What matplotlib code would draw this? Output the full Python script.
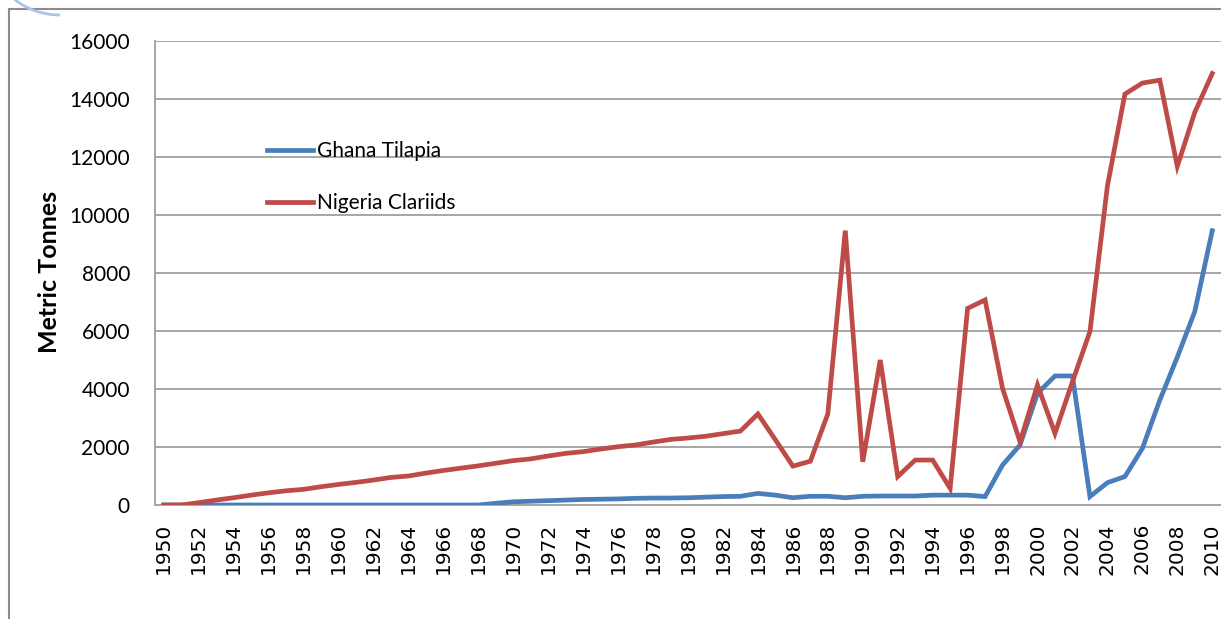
import matplotlib

matplotlib.use("Agg")
import matplotlib.pyplot as plt
from matplotlib.patches import Rectangle, Arc

# Aquaculture production, metric tonnes
years = list(range(1950, 2011))

ghana_tilapia = [0] * 19 + [
    60, 110, 130, 150, 170, 190, 200, 210, 230, 240,      # 1969-1978
    240, 250, 270, 290, 300, 400, 340, 250, 300, 300,     # 1979-1988
    250, 300, 310, 310, 310, 340, 340, 340, 290, 1380,    # 1989-1998
    2070, 3850, 4450, 4450, 290, 770, 980, 1950, 3620,    # 1999-2007
    5100, 6670, 9460,                                     # 2008-2010
]

nigeria_clariids = [
    0, 0, 80, 170, 250, 340, 420, 490, 540, 630,          # 1950-1959
    710, 780, 860, 950, 1000, 1100, 1190, 1270, 1350, 1440,  # 1960-1969
    1530, 1590, 1690, 1780, 1840, 1930, 2010, 2070, 2170, 2260,  # 1970-1979
    2310, 2370, 2460, 2550, 3140, 2250, 1340, 1510, 3140, 9460,  # 1980-1989
    1490, 5000, 980, 1550, 1550, 575, 6780, 7070, 4020, 2180,    # 1990-1999
    4140, 2470, 4250, 5980, 11000, 14170, 14550, 14650, 11680, 13540,  # 2000-2009
    14880,                                                # 2010
]

series_labels = ["Ghana Tilapia", "Nigeria Clariids"]
series_colors = ["#4a7ebb", "#be4b48"]

yticks = list(range(0, 16001, 2000))
xticks = list(range(1950, 2011, 2))

narrow = ["Lato", "DejaVu Sans"]

fig = plt.figure(figsize=(12.21, 6.19), dpi=100)
ax = fig.add_axes([155 / 1221, 1 - 505 / 619, 1066 / 1221, 464 / 619])

# chart frame and the stray corner arc of the original screenshot
fig.patches.append(Rectangle((9 / 1221, -0.05), 1.1, 1 - 9 / 619 + 0.05,
                             transform=fig.transFigure, fill=False,
                             edgecolor="#8c8c8c", linewidth=1.5))
fig.patches.append(Arc((60 / 1221, 1 + 40 / 619), 130 / 1221, 110 / 619,
                       theta1=180, theta2=270, transform=fig.transFigure,
                       edgecolor="#a9c4e8", linewidth=2))

for values, label, color in zip((ghana_tilapia, nigeria_clariids), series_labels, series_colors):
    ax.plot(years, values, color=color, linewidth=3.4, label=label,
            solid_joinstyle="miter", zorder=3)

ax.set_xlim(1949.5, 2010.5)
ax.set_ylim(0, 16000)
ax.set_yticks(yticks)
ax.set_yticklabels([str(v) for v in yticks], family=narrow, fontsize=15)
ax.set_xticks(xticks)
ax.set_xticklabels([str(v) for v in xticks], rotation=90, fontsize=14.5, va="top")
for lbl in ax.get_xticklabels():
    lbl.set_fontfamily("DejaVu Sans")
ax.tick_params(axis="both", length=0)
ax.tick_params(axis="y", pad=18)
ax.tick_params(axis="x", pad=13)
ax.grid(True, axis="y", color="#a6a6a6", linewidth=1.4, zorder=1)
for side in ("top", "right"):
    ax.spines[side].set_visible(False)
for side in ("left", "bottom"):
    ax.spines[side].set_color("#a6a6a6")
    ax.spines[side].set_linewidth(1.4)

ax.set_ylabel("Metric Tonnes", family=narrow, fontsize=18, fontweight="bold")
ax.yaxis.set_label_coords(-94 / 1066, (505 - 272) / 464)

leg = ax.legend(loc="upper left", bbox_to_anchor=((267 - 155) / 1066, (505 - 141) / 464),
                frameon=False, prop={"family": narrow, "size": 15},
                handlelength=2.2, handletextpad=0.2, labelspacing=1.55,
                borderpad=0, borderaxespad=0)

fig.savefig("out.png", dpi=100)
